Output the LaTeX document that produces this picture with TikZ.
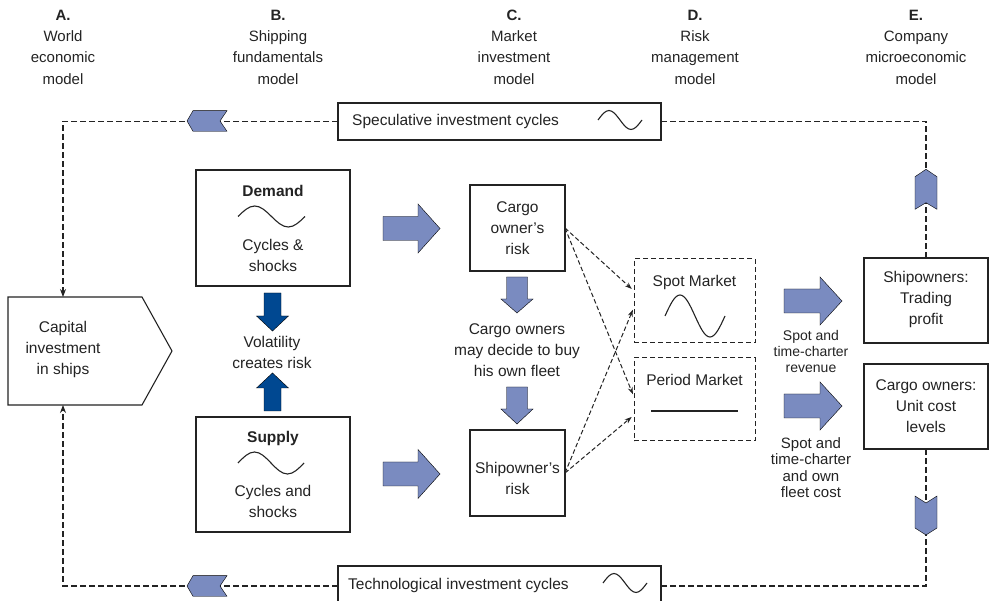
\documentclass[tikz,border=0pt]{standalone}
\usepackage{fontspec}
\setmainfont{Liberation Sans}
\usetikzlibrary{arrows.meta}
\definecolor{lblue}{RGB}{122,139,192}
\definecolor{dblue}{RGB}{0,72,145}
\definecolor{ink}{RGB}{35,35,35}
\begin{document}
\begin{tikzpicture}[x=1pt,y=-1pt,
 plainbox/.style={draw=ink,line width=1.1pt,inner sep=0,outer sep=0},
 dashbox/.style={draw=ink,line width=1pt,dash pattern=on 5pt off 3pt,inner sep=0,outer sep=0},
 txt/.style={text=ink,font=\fontsize{15.5}{21}\selectfont,align=center,inner sep=0},
 hdr/.style={text=ink,font=\fontsize{15}{21.3}\selectfont,align=center,inner sep=0},
 lbl/.style={text=ink,font=\fontsize{14}{16}\selectfont,align=center,inner sep=0},
 lblb/.style={text=ink,font=\fontsize{15}{16.3}\selectfont,align=center,inner sep=0},
 cyclepath/.style={draw=ink,line width=1.1pt,dash pattern=on 6pt off 3pt},
 flowlink/.style={draw=ink,line width=1pt,dash pattern=on 4.5pt off 2.5pt,shorten >=3pt,-{Stealth[length=7pt,width=5pt]}},
 wavy/.style={draw=ink,line width=1.1pt},
 fatarrow/.style={fill=lblue},
 darkarrow/.style={fill=dblue}]
\useasboundingbox (0,0) rectangle (989,601);

% headers
\node[hdr] (hA) at (63,47) {\textbf{A.}\\World\\economic\\model};
\node[hdr] (hB) at (278,47) {\textbf{B.}\\Shipping\\fundamentals\\model};
\node[hdr] (hC) at (514,47) {\textbf{C.}\\Market\\investment\\model};
\node[hdr] (hD) at (695,47) {\textbf{D.}\\Risk\\management\\model};
\node[hdr] (hE) at (916,47) {\textbf{E.}\\Company\\microeconomic\\model};

% cycle boxes
\node[plainbox,fill=white,minimum width=323,minimum height=37] (spec) at (499.5,121.5) {};
\node[txt,anchor=west] (spectxt) at (352,121.5) {Speculative investment cycles};
\draw[wavy] (598,120) sin (609,110.5) cos (620,120) sin (631,129.5) cos (642,120);

\node[plainbox,fill=white,minimum width=323,minimum height=40] (tech) at (499.5,586) {};
\node[txt,anchor=west] (techtxt) at (348,585) {Technological investment cycles};
\draw[wavy] (603,583) sin (614,573.5) cos (625,583) sin (636,592.5) cos (647,583);

% capital investment
\draw[plainbox] (8,297) -- (142,297) -- (172,351) -- (142,405) -- (8,405) -- cycle;
\node[txt] (captxt) at (63,349) {Capital\\investment\\in ships};
\coordinate (capN) at (63,297);
\coordinate (capS) at (63,405);

% demand / supply
\node[plainbox,minimum width=154,minimum height=116] (demand) at (273,228) {};
\node[txt] (demhead) at (273,191) {\textbf{Demand}};
\draw[wavy] (238,216.5) sin (254.75,206) cos (271.5,216.5) sin (288.25,227) cos (305,216.5);
\node[txt] (demtxt) at (273,255.5) {Cycles \&\\shocks};

\node[plainbox,minimum width=154,minimum height=115] (supply) at (273,474.5) {};
\node[txt] (suphead) at (273,438) {\textbf{Supply}};
\draw[wavy] (238,463) sin (254.5,452) cos (271,463) sin (287.5,474) cos (304,463);
\node[txt] (suptxt) at (273,501.5) {Cycles and\\shocks};

\draw[darkarrow] (264,293)--(281,293)--(281,316)--(288.5,316)--(272.5,331)--(256.5,316)--(264,316)--cycle;
\node[txt] (vol) at (272,352) {Volatility\\creates risk};
\draw[darkarrow] (264,411)--(281,411)--(281,388)--(288.5,388)--(272.5,373)--(256.5,388)--(264,388)--cycle;

% fat arrows into column C
\draw[fatarrow] (383,216.5) -- (418,216.5) -- (418,204) -- (440,228.5) -- (418,253) -- (418,240.5) -- (383,240.5) -- cycle;
\draw[fatarrow] (383,462) -- (418,462) -- (418,449.5) -- (440,474) -- (418,498.5) -- (418,486) -- (383,486) -- cycle;

% column C
\node[plainbox,minimum width=95,minimum height=86] (cargorisk) at (517.5,228) {};
\node[txt] (cargorisktxt) at (517.5,228) {Cargo\\owner’s\\risk};
\draw[fatarrow] (506.5,277)--(527.5,277)--(527.5,299)--(533,299)--(517,313)--(501,299)--(506.5,299)--cycle;
\node[txt] (decide) at (517,350) {Cargo owners\\may decide to buy\\his own fleet};
\draw[fatarrow] (506.5,387)--(527.5,387)--(527.5,409)--(533,409)--(517,424)--(501,409)--(506.5,409)--cycle;
\node[plainbox,minimum width=95,minimum height=86] (shiprisk) at (517.5,473) {};
\node[txt] (shiprisktxt) at (517.5,478) {Shipowner’s\\risk};

% column D
\node[dashbox,minimum width=121,minimum height=84] (spot) at (694.5,301) {};
\node[txt] (spottxt) at (694.5,282) {Spot Market};
\draw[wavy] (665,316) sin (680,295) cos (695,316) sin (710,337) cos (725,316);
\node[dashbox,minimum width=121,minimum height=83] (period) at (694.5,399.5) {};
\node[txt] (periodtxt) at (694.5,380) {Period Market};
\draw[wavy] (651,411) -- (738,411);

\draw[flowlink] (cargorisk.east) -- ([yshift=10pt]spot.west);
\draw[flowlink] (cargorisk.east) -- ([yshift=2.5pt]period.west);
\draw[flowlink] (shiprisk.east) -- ([yshift=-6pt]spot.west);
\draw[flowlink] (shiprisk.east) -- ([yshift=-15.5pt]period.west);

% fat arrows into column E
\draw[fatarrow] (784,289)--(820,289)--(820,277)--(842,301)--(820,325)--(820,313)--(784,313)--cycle;
\node[lbl] (revlbl) at (811,351) {Spot and\\time-charter\\revenue};
\draw[fatarrow] (784,394)--(820,394)--(820,382)--(842,406)--(820,430)--(820,418)--(784,418)--cycle;
\node[lblb] (costlbl) at (811,467.5) {Spot and\\time-charter\\and own\\fleet cost};

% column E
\node[plainbox,minimum width=124,minimum height=85] (shipown) at (926,300.5) {};
\node[txt] (shipowntxt) at (926,299.5) {Shipowners:\\Trading\\profit};
\node[plainbox,minimum width=124,minimum height=85] (cargoown) at (926,406.5) {};
\node[txt] (cargoowntxt) at (926,406.5) {Cargo owners:\\Unit cost\\levels};

% feedback loops
\draw[cyclepath,-{Stealth[length=8pt,width=6pt]}] (spec.west) -| (capN);
\draw[cyclepath] (spec.east) -| (shipown.north);
\draw[cyclepath] (cargoown.south) |- (tech.east);
\draw[cyclepath,-{Stealth[length=8pt,width=6pt]}] (tech.west) -| (capS);

% chevrons on the loops
\draw[fatarrow] (187,121) -- (193,110.7) -- (227,110.7) -- (220,121) -- (227,131.3) -- (193,131.3) -- cycle;
\draw[fatarrow] (187,586) -- (193,575.7) -- (227,575.7) -- (220,586) -- (227,596.3) -- (193,596.3) -- cycle;
\draw[fatarrow] (926,169.3) -- (937,176.7) -- (937,209.3) -- (926,202.7) -- (915,209.3) -- (915,176.7) -- cycle;
\draw[fatarrow] (915,496) -- (926,503) -- (937,496) -- (937,528) -- (926,535) -- (915,528) -- cycle;
\end{tikzpicture}
\end{document}
